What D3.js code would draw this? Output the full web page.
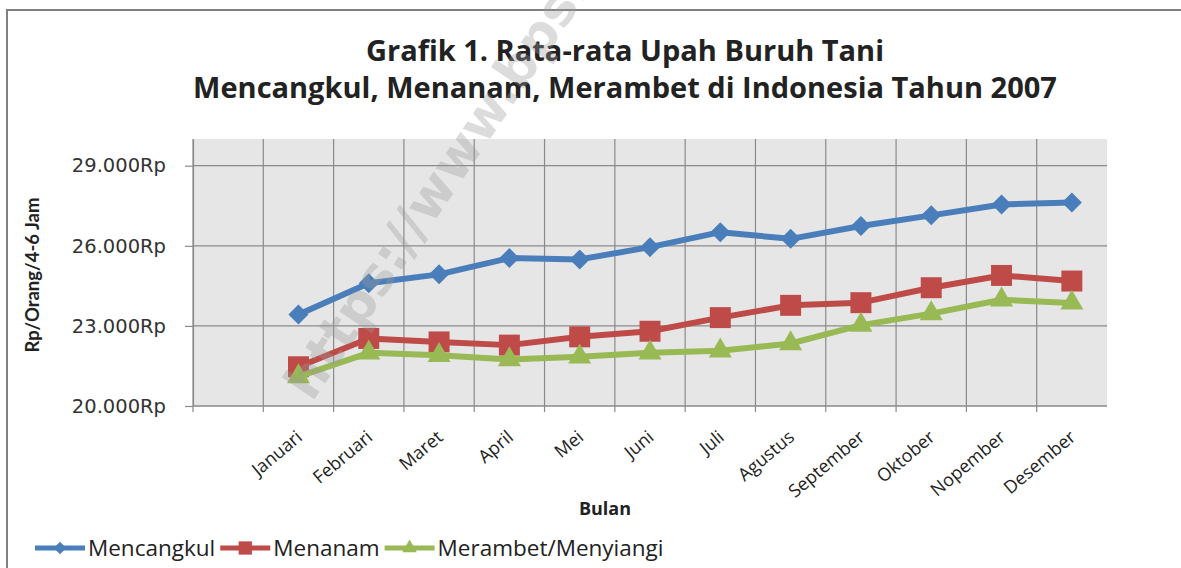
<!DOCTYPE html>
<html>
<head>
<meta charset="utf-8">
<script src="https://cdn.jsdelivr.net/npm/d3@7.9.0/dist/d3.min.js"></script>
<style>
  body { margin: 0; background: #fff; }
  svg { display: block; }
</style>
</head>
<body>
<svg id="chart"></svg>
<script>
// data
const months = ["Januari", "Februari", "Maret", "April", "Mei", "Juni", "Juli",
                "Agustus", "September", "Oktober", "Nopember", "Desember"];
const mencangkul = [23430, 24600, 24930, 25540, 25490, 25950, 26510, 26260, 26740, 27140, 27550, 27620];
const menanam    = [21470, 22530, 22400, 22280, 22590, 22800, 23310, 23770, 23870, 24430, 24890, 24680];
const merambet   = [21100, 21990, 21900, 21740, 21840, 21990, 22070, 22340, 23030, 23460, 23980, 23860];
const seriesNames = ["Mencangkul", "Menanam", "Merambet/Menyiangi"];
const yTicks = [20000, 23000, 26000, 29000];
const yDomain = [20000, 30000];

const W = 1181, H = 568;
const plot = {left: 193, right: 1107, top: 139, bottom: 406};

const svg = d3.select("#chart").attr("width", W).attr("height", H);
svg.append("rect").attr("width", W).attr("height", H).attr("fill", "#fff");

// outer frame (runs off the right and bottom edge)
svg.append("path")
    .attr("d", `M7,${H} L7,10 L${W},10`)
    .attr("fill", "none").attr("stroke", "#808080").attr("stroke-width", 2);

// first slot is an empty category, like in the source chart
const slots = [""].concat(months);
const x = d3.scaleBand().domain(slots).range([plot.left, plot.right]).padding(0);
const y = d3.scaleLinear().domain(yDomain).range([plot.bottom, plot.top]);

svg.append("rect")
    .attr("x", plot.left).attr("y", plot.top)
    .attr("width", plot.right - plot.left).attr("height", plot.bottom - plot.top)
    .attr("fill", "#e6e6e6");

const grid = "#8a8a8a";

// horizontal gridlines
svg.append("g").selectAll("line").data(yTicks).enter().append("line")
    .attr("x1", plot.left).attr("x2", plot.right)
    .attr("y1", d => y(d)).attr("y2", d => y(d))
    .attr("stroke", grid).attr("stroke-width", 1.2);

// vertical gridlines on category boundaries, ticking below the axis
svg.append("g").selectAll("line").data(slots).enter().append("line")
    .attr("x1", d => x(d)).attr("x2", d => x(d))
    .attr("y1", plot.top).attr("y2", plot.bottom + 6)
    .attr("stroke", grid).attr("stroke-width", 1.2);

// y axis
const fmt = d3.formatLocale({decimal: ",", thousands: ".", grouping: [3], currency: ["", "Rp"]}).format(",");
const yAxis = svg.append("g")
    .attr("transform", `translate(${plot.left},0)`)
    .call(d3.axisLeft(y).tickValues(yTicks).tickSizeInner(8).tickSizeOuter(0).tickPadding(19)
        .tickFormat(d => fmt(d) + "Rp"));
yAxis.select(".domain").attr("stroke", grid).attr("stroke-width", 1.2);
yAxis.selectAll(".tick line").attr("stroke", grid).attr("stroke-width", 1.2);
yAxis.selectAll(".tick text")
    .attr("font-family", "DejaVu Sans").attr("font-size", 19.5).attr("fill", "#333");

// x axis line
svg.append("line")
    .attr("x1", plot.left).attr("x2", plot.right)
    .attr("y1", plot.bottom).attr("y2", plot.bottom)
    .attr("stroke", grid).attr("stroke-width", 1.2);

// x labels, rotated
svg.append("g").selectAll("text").data(months).enter().append("text")
    .attr("transform", d => `translate(${x(d) + x.bandwidth() / 2 + 5},439) rotate(-40)`)
    .attr("text-anchor", "end")
    .attr("font-family", "Open Sans").attr("font-size", 18).attr("fill", "#222")
    .text(d => d);

svg.append("text")
    .attr("x", 605).attr("y", 515)
    .attr("text-anchor", "middle")
    .attr("font-family", "Open Sans").attr("font-weight", "bold").attr("font-size", 18).attr("fill", "#222")
    .text("Bulan");

svg.append("text")
    .attr("transform", "translate(39,275) rotate(-90)")
    .attr("text-anchor", "middle")
    .attr("font-family", "Lato").attr("font-weight", "bold").attr("font-size", 18.5).attr("fill", "#222")
    .text("Rp/Orang/4-6 Jam");

// title
const title = svg.append("text")
    .attr("text-anchor", "middle")
    .attr("font-family", "Open Sans").attr("font-weight", "bold").attr("font-size", 29).attr("fill", "#222");
title.append("tspan").attr("x", 625).attr("y", 61).text("Grafik 1. Rata-rata Upah Buruh Tani");
title.append("tspan").attr("x", 625).attr("y", 98).text("Mencangkul, Menanam, Merambet di Indonesia Tahun 2007");

// series
const colors = ["#4a7ebb", "#be4b48", "#98b954"];
const symbols = [
  {type: d3.symbolSquare, size: 200, rot: 45},
  {type: d3.symbolSquare, size: 440, rot: 0},
  {type: d3.symbolTriangle, size: 230, rot: 0}
];
const series = [mencangkul, menanam, merambet].map((vals, i) => ({
  name: seriesNames[i],
  values: vals.map((v, j) => ({month: months[j], value: v}))
}));

const line = d3.line()
    .x(d => x(d.month) + x.bandwidth() / 2)
    .y(d => y(d.value));

const sg = svg.append("g").selectAll("g").data(series).enter().append("g");
sg.append("path")
    .attr("d", d => line(d.values))
    .attr("fill", "none")
    .attr("stroke", (d, i) => colors[i])
    .attr("stroke-width", 6)
    .attr("stroke-linejoin", "round");
sg.each(function(s, i) {
  d3.select(this).selectAll(".mark").data(s.values).enter().append("path")
      .attr("class", "mark")
      .attr("d", d3.symbol().type(symbols[i].type).size(symbols[i].size))
      .attr("transform", d => `translate(${x(d.month) + x.bandwidth() / 2},${y(d.value)}) rotate(${symbols[i].rot})`)
      .attr("fill", colors[i]);
});

// legend
let lx = 35;
const ly = 548;
series.forEach((s, i) => {
  const g = svg.append("g");
  g.append("line")
      .attr("x1", lx).attr("x2", lx + 50).attr("y1", ly).attr("y2", ly)
      .attr("stroke", colors[i]).attr("stroke-width", 5);
  g.append("path")
      .attr("d", d3.symbol().type(symbols[i].type).size(symbols[i].size * 0.4))
      .attr("transform", `translate(${lx + 25},${ly}) rotate(${symbols[i].rot})`)
      .attr("fill", colors[i]);
  const t = g.append("text")
      .attr("x", lx + 53).attr("y", ly + 8)
      .attr("font-family", "Open Sans").attr("font-size", 22.5).attr("fill", "#222")
      .text(s.name);
  lx += 53 + t.node().getComputedTextLength() + 5;
});

// site watermark over the plot
svg.append("text")
    .attr("transform", "translate(312,403) rotate(-56)")
    .attr("font-family", "DejaVu Sans").attr("font-weight", "bold").attr("font-size", 52)
    .attr("fill", "#9a9a9a").attr("fill-opacity", 0.35)
    .text("https://www.bps.go.id");
</script>
</body>
</html>
